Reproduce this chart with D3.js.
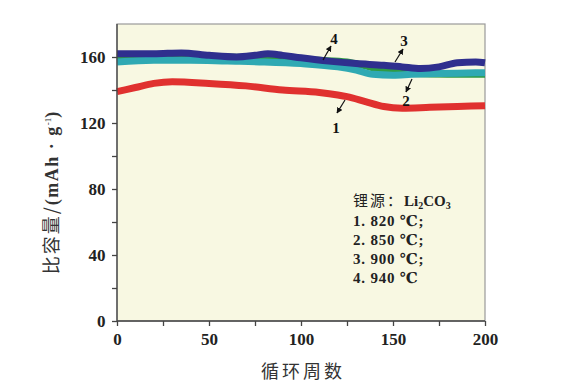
<!DOCTYPE html>
<html><head><meta charset="utf-8">
<script src="https://cdn.jsdelivr.net/npm/d3@7"></script>
<style>body{margin:0;background:#fff}svg{display:block}</style>
</head><body><svg id="c" width="565" height="383"></svg>
<script>
const xTicks = [0, 50, 100, 150, 200];
const yTicks = [0, 40, 80, 120, 160];
const s1Cycles = [0, 10, 20, 30, 50, 70, 90, 110, 120, 125, 135, 145, 155, 170, 185, 200];
const s1Values = [139, 141.5, 144, 145, 144, 142.5, 140, 138.5, 137, 136, 133, 130, 129, 129.5, 130, 130.5];
const s2Cycles = [0, 20, 40, 60, 80, 100, 120, 130, 139, 150, 160, 175, 190, 200];
const s2Values = [157, 158, 158, 157.5, 157, 156, 154, 152, 149.5, 149, 149.5, 150, 150.3, 150.5];
const s3Cycles = [0, 10, 20, 35, 50, 65, 75, 82, 90, 100, 115, 130, 145, 155, 165, 175, 185, 195, 200];
const s3Values = [162, 162, 162, 162.5, 161, 160, 161, 162, 161, 159.5, 157.5, 156, 155, 154, 153, 154, 156.5, 157, 156.5];
const s4Cycles = [0, 30, 60, 90, 110, 125, 139, 150, 160, 180, 200];
const s4Values = [159.5, 160.5, 160, 159, 158, 157, 153.5, 151.5, 150, 149.5, 149.5];
const seriesNames = ["1", "2", "3", "4"];
const legendTitle = ["锂源：", "Li", "2", "CO", "3"];
const legendLines = ["1. 820 ℃;", "2. 850 ℃;", "3. 900 ℃;", "4. 940 ℃"];

const svg = d3.select("#c");
const L = 117, R = 485, T = 24, B = 321;
const x = d3.scaleLinear().domain([0, 200]).range([L, R]);
const y = d3.scaleLinear().domain([0, 180]).range([B, T]);

svg.append("rect").attr("x", L).attr("y", T).attr("width", R - L).attr("height", B - T)
  .attr("fill", "#f8f8e2").attr("stroke", "#9a9a9a").attr("stroke-width", 1.2);

const line = d3.line().x(d => x(d[0])).y(d => y(d[1])).curve(d3.curveMonotoneX);
const zip = (a, b) => a.map((v, i) => [v, b[i]]);
const series = [
  {c: s1Cycles, v: s1Values, color: "#e0312f"},
  {c: s4Cycles, v: s4Values, color: "#2e9b44"},
  {c: s2Cycles, v: s2Values, color: "#2fa9b3"},
  {c: s3Cycles, v: s3Values, color: "#2f2f8e"}
];
series.forEach(s => {
  svg.append("path").attr("d", line(zip(s.c, s.v))).attr("fill", "none")
    .attr("stroke", s.color).attr("stroke-width", 7).attr("stroke-linecap", "butt");
});

const tickFont = "Liberation Serif, DejaVu Serif, serif";
const xAxis = d3.axisBottom(x).tickValues(d3.range(0, 201, 25)).tickSize(5).tickFormat(d => xTicks.includes(d) ? d : "");
const gx = svg.append("g").attr("transform", `translate(0,${B})`).call(xAxis);
gx.selectAll("text").attr("font-family", tickFont).attr("font-weight", "bold").attr("font-size", 17).attr("fill", "#222").attr("dy", "0.95em");
const yAxis = d3.axisLeft(y).tickValues(d3.range(0, 161, 20)).tickSize(5).tickFormat(d => yTicks.includes(d) ? d : "");
const gy = svg.append("g").attr("transform", `translate(${L},0)`).call(yAxis);
gy.selectAll("text").attr("font-family", tickFont).attr("font-weight", "bold").attr("font-size", 17).attr("fill", "#222").attr("dx", "-0.2em");
[gx, gy].forEach(g => { g.selectAll("line").attr("stroke", "#444").attr("stroke-width", 1.3); });
gy.select(".domain").remove();
gy.append("line").attr("x1", 0).attr("x2", 0).attr("y1", T).attr("y2", B).attr("stroke", "#444").attr("stroke-width", 1.3);
gx.select(".domain").remove();
gx.append("line").attr("x1", L).attr("x2", R).attr("y1", 0).attr("y2", 0).attr("stroke", "#444").attr("stroke-width", 1.3);

// x label
svg.append("text").attr("x", (L + R) / 2 + 2).attr("y", 378).attr("text-anchor", "middle")
  .attr("font-family", "Noto Sans CJK SC").attr("font-size", 18).attr("letter-spacing", 3).attr("fill", "#333").text("循环周数");
// y label
const yl = svg.append("text").attr("transform", "translate(58,193) rotate(-90)").attr("text-anchor", "middle")
  .attr("font-size", 18).attr("fill", "#333");
yl.append("tspan").attr("font-family", "Noto Sans CJK SC").attr("letter-spacing", 2).text("比容量/");
yl.append("tspan").attr("font-family", tickFont).attr("font-weight", "bold").attr("letter-spacing", 1.5).text("(mAh · g");
yl.append("tspan").attr("font-family", tickFont).attr("font-size", 9).attr("dy", -7).text("-1");
yl.append("tspan").attr("font-family", tickFont).attr("font-weight", "bold").attr("dy", 7).text(")");

// annotations
svg.append("defs").append("marker").attr("id", "ah").attr("viewBox", "0 0 10 10").attr("refX", 9).attr("refY", 5)
  .attr("markerWidth", 5).attr("markerHeight", 5).attr("orient", "auto")
  .append("path").attr("d", "M0,0L10,5L0,10z").attr("fill", "#111");
const ann = [
  {t: seriesNames[0], tx: 336, ty: 133, x1: 345, y1: 100, x2: 337, y2: 113},
  {t: seriesNames[1], tx: 406, ty: 106, x1: 412, y1: 79, x2: 406, y2: 92},
  {t: seriesNames[2], tx: 404, ty: 46, x1: 395, y1: 62, x2: 403, y2: 49},
  {t: seriesNames[3], tx: 334, ty: 44, x1: 323, y1: 60, x2: 331, y2: 46}
];
ann.forEach(a => {
  svg.append("line").attr("x1", a.x1).attr("y1", a.y1).attr("x2", a.x2).attr("y2", a.y2)
    .attr("stroke", "#111").attr("stroke-width", 1.2).attr("marker-end", "url(#ah)");
  svg.append("text").attr("x", a.tx).attr("y", a.ty).attr("text-anchor", "middle").attr("font-family", tickFont)
    .attr("font-weight", "bold").attr("font-size", 15).attr("fill", "#111").text(a.t);
});

// legend
const lg = svg.append("text").attr("x", 353).attr("y", 206).attr("font-size", 15).attr("fill", "#222");
lg.append("tspan").attr("font-family", "Noto Sans CJK SC").attr("letter-spacing", 2).text(legendTitle[0]);
lg.append("tspan").attr("font-family", tickFont).attr("font-weight", "bold").text(legendTitle[1]);
lg.append("tspan").attr("font-family", tickFont).attr("font-weight", "bold").attr("font-size", 10).attr("dy", 3).text(legendTitle[2]);
lg.append("tspan").attr("font-family", tickFont).attr("font-weight", "bold").attr("dy", -3).text(legendTitle[3]);
lg.append("tspan").attr("font-family", tickFont).attr("font-weight", "bold").attr("font-size", 10).attr("dy", 3).text(legendTitle[4]);
legendLines.forEach((t, i) => {
  svg.append("text").attr("x", 353).attr("y", 226 + i * 19).attr("font-family", tickFont).attr("font-weight", "bold")
    .attr("font-size", 15).attr("fill", "#222").attr("letter-spacing", 0.8).text(t);
});
</script></body></html>
